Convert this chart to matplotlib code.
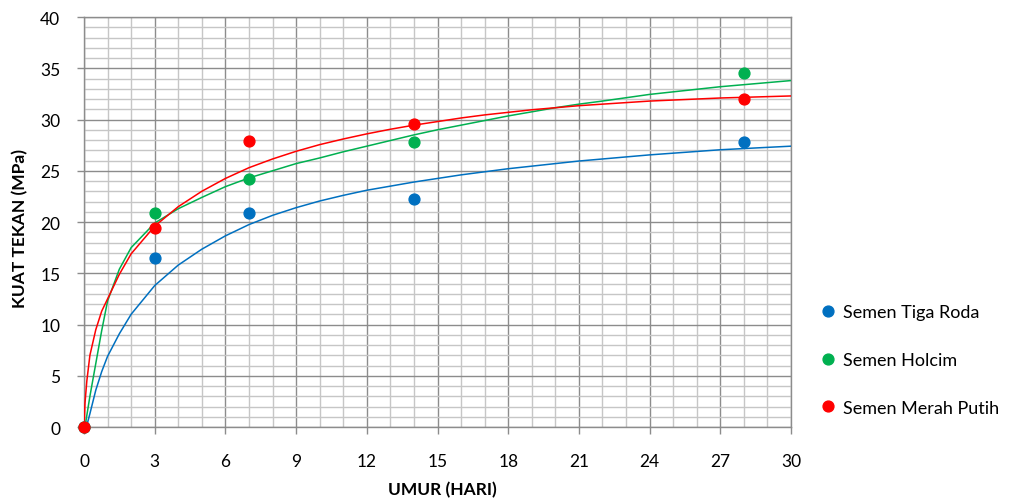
import matplotlib.pyplot as plt
from matplotlib.ticker import MultipleLocator

plt.rcParams['font.family'] = ['Lato', 'DejaVu Sans']

# ---- measured points ----
umur = [0, 3, 7, 14, 28]
tiga_roda = [0, 16.45, 20.9, 22.2, 27.8]
holcim = [0, 20.9, 24.2, 27.8, 34.5]
merah_putih = [0, 19.45, 27.9, 29.6, 32.0]

# ---- trend curves ----
tr_x = [0.1, 0.25, 0.5, 0.75, 1, 1.5, 2, 3, 4, 5, 6, 7, 8, 9, 10, 11, 12, 13,
        14, 15, 16, 17, 18, 19, 20, 21, 22, 24, 27, 30]
tr_y = [0, 1.3, 3.6, 5.4, 6.9, 9.1, 11.0, 13.8, 15.8, 17.35, 18.65, 19.75, 20.65,
        21.4, 22.05, 22.6, 23.1, 23.5, 23.9, 24.25, 24.6, 24.9, 25.2, 25.45, 25.7,
        25.95, 26.15, 26.55, 27.05, 27.4]

ho_x = [0.04, 0.25, 0.5, 0.75, 1, 1.5, 2, 3, 4, 5, 6, 7, 8, 9, 10, 11, 12, 13,
        14, 15, 16, 17, 18, 19, 20, 21, 22, 24, 27, 30]
ho_y = [0, 3.0, 6.2, 9.4, 12.3, 15.4, 17.5, 19.9, 21.3, 22.4, 23.45, 24.3, 25.0,
        25.7, 26.25, 26.85, 27.4, 27.95, 28.5, 29.0, 29.45, 29.9, 30.35, 30.75, 31.15,
        31.5, 31.8, 32.45, 33.2, 33.8]

mp_x = [0, 0.04, 0.12, 0.25, 0.5, 0.75, 1, 1.5, 2, 3, 4, 5, 6, 7, 8, 9, 10, 11,
        12, 13, 14, 15, 16, 17, 18, 19, 20, 21, 22, 24, 27, 30]
mp_y = [0, 2.3, 4.5, 7.0, 9.5, 11.3, 12.5, 14.9, 16.9, 19.6, 21.5, 23.0, 24.25,
        25.3, 26.15, 26.9, 27.55, 28.1, 28.6, 29.05, 29.45, 29.8, 30.15, 30.45, 30.7,
        30.95, 31.15, 31.35, 31.5, 31.8, 32.1, 32.3]

labels = ['Semen Tiga Roda', 'Semen Holcim', 'Semen Merah Putih']
colors = ['#0070C0', '#00B050', '#FF0000']

fig = plt.figure(figsize=(10.11, 5.02), dpi=100)
ax = fig.add_axes([0.0831, 0.1474, 0.6993, 0.8167])

curves = [(tr_x, tr_y), (ho_x, ho_y), (mp_x, mp_y)]
points = [tiga_roda, holcim, merah_putih]
handles = []
for (cx, cy), c in zip(curves, colors):
    ax.plot(cx, cy, color=c, lw=1.1, zorder=3, solid_joinstyle='round')
for pts, c, lab in zip(points, colors, labels):
    h, = ax.plot(umur, pts, 'o', color=c, ms=7.8, zorder=4, clip_on=False,
                 label=lab, linestyle='none')
    handles.append(h)

ax.set_xlim(0, 30)
ax.set_ylim(0, 40)
ax.xaxis.set_major_locator(MultipleLocator(3))
ax.xaxis.set_minor_locator(MultipleLocator(1))
ax.yaxis.set_major_locator(MultipleLocator(5))
ax.yaxis.set_minor_locator(MultipleLocator(1))
ax.grid(which='major', color='#8c8c8c', lw=1.0, zorder=1)
ax.grid(which='minor', color='#c6c6c6', lw=1.0, zorder=0)
ax.set_axisbelow(True)
for s in ax.spines.values():
    s.set_color('#8c8c8c')
    s.set_linewidth(1.0)
ax.tick_params(which='major', direction='out', length=5, width=1,
               color='#8c8c8c', labelsize=12.5, labelcolor='black')
ax.tick_params(axis='x', which='major', pad=14)
ax.tick_params(axis='y', which='major', pad=12)
ax.tick_params(which='minor', length=0)

fig.text(0.0198, 0.544, 'KUAT TEKAN (MPa)', rotation=90, ha='center',
         va='center', fontsize=12.5, fontweight='bold')
fig.text(0.438, 0.024, 'UMUR (HARI)', ha='center', va='center',
         fontsize=12.5, fontweight='bold')

fig.legend(handles=handles, loc='center left', bbox_to_anchor=(0.812, 0.281),
           frameon=False, fontsize=13, handlelength=0.8, handletextpad=0.4,
           labelspacing=1.75, borderpad=0, borderaxespad=0)

fig.savefig('out.png', dpi=100)
